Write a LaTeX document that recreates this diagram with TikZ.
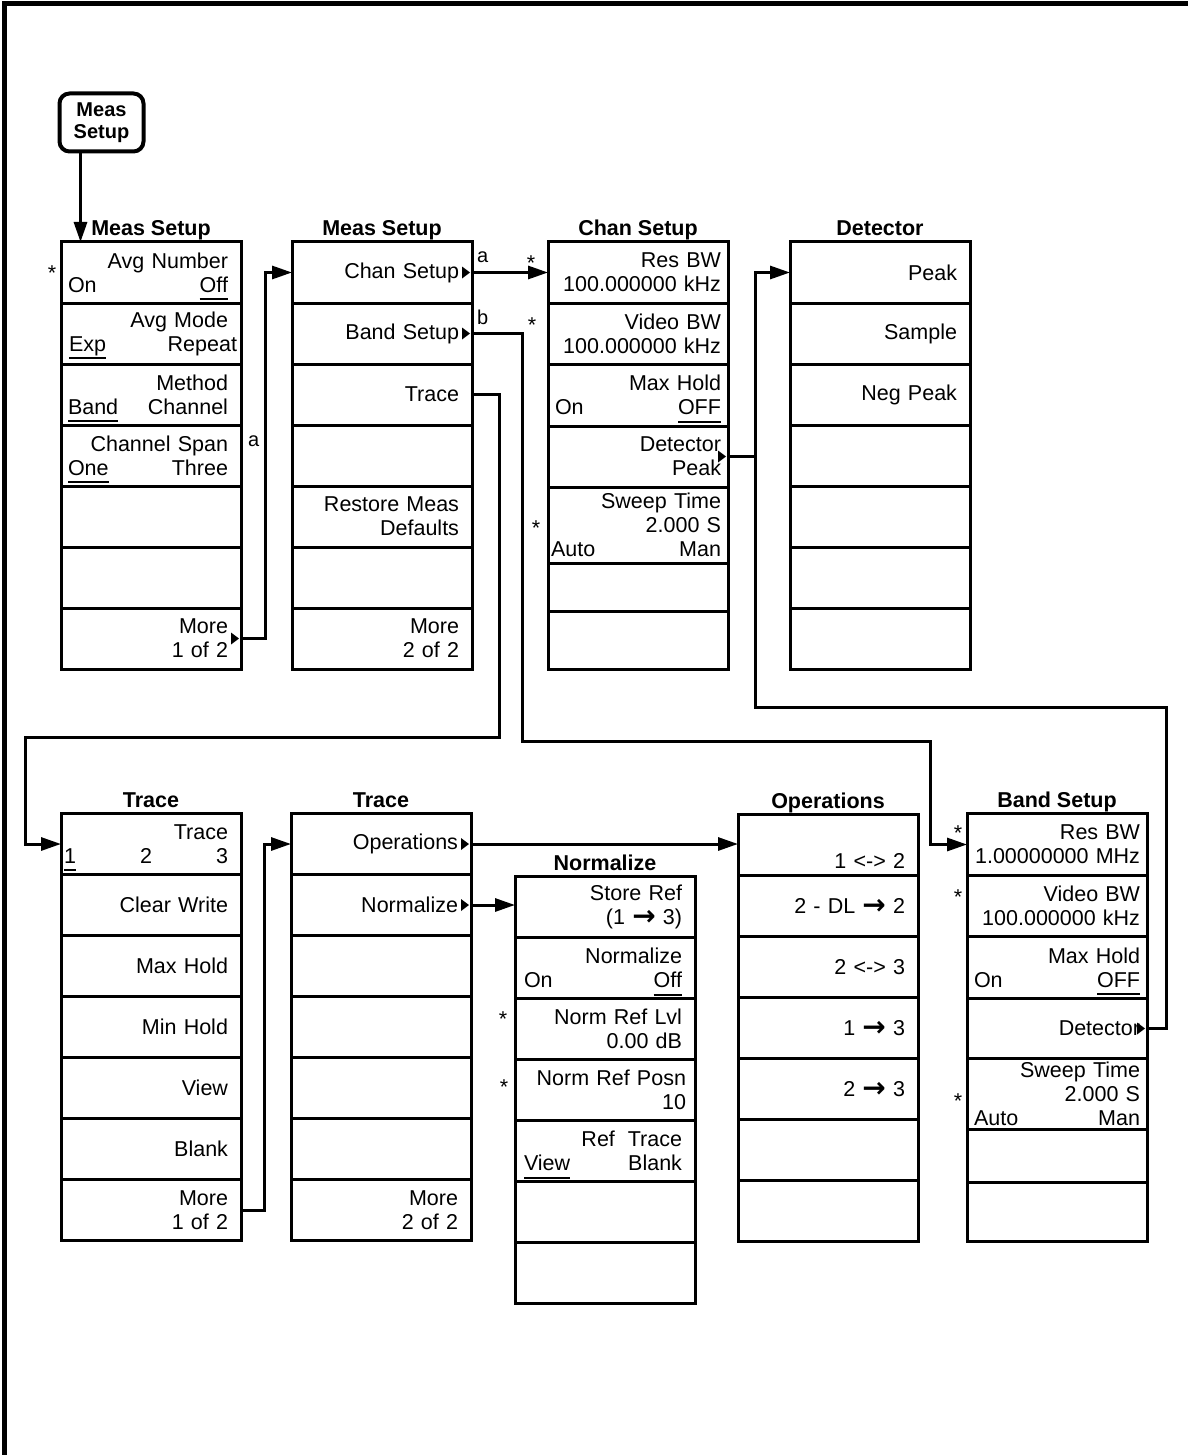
\documentclass[tikz,border=0pt]{standalone}
\usepackage{fontspec}
\setmainfont{Liberation Sans}
\newfontfamily\arrowfont{DejaVu Sans}
\usetikzlibrary{positioning}
\usetikzlibrary{arrows.meta}

\newcommand\keyfont{\fontsize{21.5}{24}\selectfont}
\newcommand\titlefont{\fontsize{21.5}{24}\selectfont\bfseries}
\newsavebox\undrbox
\newcommand\undr[1]{\leavevmode\sbox\undrbox{#1}\rlap{\smash{\rule[-8pt]{\wd\undrbox}{2pt}}}\usebox\undrbox}
\newcommand\boldto{{\arrowfont\bfseries\fontsize{28}{24}\selectfont\raisebox{-1pt}{→}}}
\newcommand\lft[1]{\hspace*{-#1}}

\tikzstyle{softkey}=[draw, line width=3pt, outer sep=0pt, minimum width=180pt, inner xsep=0pt, inner ysep=0pt, text width=154pt, align=right, font=\keyfont]
\tikzstyle{menutitle}=[font=\titlefont, anchor=base, inner sep=0pt]
\tikzstyle{hardkey}=[draw, line width=4pt, rounded corners=10pt, minimum width=84pt, minimum height=58pt, align=center, font=\fontsize{20}{22}\selectfont\bfseries]
\tikzstyle{link}=[draw, line width=3pt, -{Triangle[length=20pt,width=13pt]}]
\tikzstyle{wire}=[draw, line width=3pt]
\tikzstyle{starnote}=[font=\keyfont, inner sep=0pt, anchor=base]
\tikzstyle{tag}=[font=\fontsize{20}{22}\selectfont, inner sep=0pt, anchor=base west]

% one softkey menu: [row options]{name}{top centre}{title}{height/text, ...}
\newcommand\menucol[5][]{%
  \coordinate (#2-0) at #3;
  \node[menutitle] (#2-title) at ([yshift=6pt]#2-0) {#4};
  \foreach \h/\txt [count=\i, remember=\i as \j (initially 0)] in {#5}
    \node[softkey, #1, minimum height=\h pt, below=0pt of #2-\j] (#2-\i) {\txt};
}
\newcommand\submenu[1]{\fill ([xshift=-2pt]#1) -- ++(-8,6) -- ++(0,-12) -- cycle;}

\begin{document}
\begin{tikzpicture}[x=1pt, y=-1pt]
  \useasboundingbox (0,0) rectangle (1188,1455);
  \draw[line width=4.5pt] (4.5,1455) -- (4.5,3.5) -- (1188,3.5);

  \node[hardkey] (meas_key) at (101.5,122.5) {Meas\\Setup};

  % upper row
  \menucol{meas_a}{(151,242)}{Meas Setup}{61/{Avg Number\\\lft{6pt}On\hfill\undr{Off}},
    61/{Avg Mode\\\lft{5pt}\undr{Exp}\hfill Repeat\kern-9pt},
    61/{Method\\\lft{6pt}\undr{Band}\hfill Channel},
    61/{Channel Span\\\lft{6pt}\undr{One}\hfill Three}, 61/{}, 61/{}, 61/{More\\1 of 2}}
  \menucol{meas_b}{(382,242)}{Meas Setup}{61/{Chan Setup}, 61/{Band Setup},
    61/{Trace\hspace*{2pt}}, 61/{}, 61/{Restore Meas\\Defaults}, 61/{}, 61/{More\\2 of 2}}
  \menucol[text width=166pt]{chan}{(638,242)}{Chan Setup}{61/{Res BW\\100.000000 kHz},
    61/{Video BW\\100.000000 kHz}, 62/{Max Hold\hspace*{5pt}\\On\hfill\undr{OFF}\hspace*{5pt}},
    61/{Detector\hspace*{7pt}\\Peak\hspace*{7pt}}, 76/{Sweep Time\\2.000 S\\\lft{4pt}Auto\hfill Man},
    48/{}, 58/{}}
  \menucol{det}{(880,242)}{Detector}{61/{Peak}, 61/{Sample\hspace*{3pt}}, 61/{Neg Peak},
    61/{}, 61/{}, 61/{}, 61/{}}

  % lower row
  \menucol{trace_a}{(151,813.5)}{Trace}{61/{Trace\\\lft{10pt}\undr{1}\hfill 2\hfill 3},
    61/{Clear Write}, 61/{Max Hold}, 61/{Min Hold}, 61/{View}, 61/{Blank}, 61/{More\\1 of 2}}
  \menucol{trace_b}{(381,813.5)}{Trace}{61/{Operations}, 61/{Normalize}, 61/{}, 61/{},
    61/{}, 61/{}, 61/{More\\2 of 2}}
  \menucol{norm}{(605,876.5)}{Normalize}{61/{Store Ref\\(1 \boldto{} 3)},
    61/{Normalize\\\lft{4pt}On\hfill\undr{Off}}, 61/{Norm Ref Lvl\\0.00 dB},
    61/{Norm Ref Posn\kern-4pt\\10\kern-4pt},
    61/{Ref\hspace{0.6em}Trace\\\lft{4pt}\undr{View}\hfill Blank}, 61/{}, 61/{}}
  \menucol{oper}{(828,814.5)}{Operations}{61/{\strut\\[6pt]1 <-> 2\hspace*{9pt}},
    61/{2 - DL \boldto{} 2}, 61/{2 <-> 3}, 61/{1 \boldto{} 3}, 61/{2 \boldto{} 3}, 61/{}, 61/{}}
  \menucol[text width=166pt]{band}{(1057,813.5)}{Band Setup}{62/{Res BW\\1.00000000 MHz},
    61/{Video BW\\100.000000 kHz}, 62/{Max Hold\hspace*{3pt}\\On\hfill\undr{OFF}\hspace*{3pt}},
    60/{Detector\hspace*{6pt}}, 71/{Sweep Time\\2.000 S\\Auto\hfill Man}, 53/{}, 59/{}}

  \foreach \n in {meas_a-7, meas_b-1, meas_b-2, chan-4, trace_b-1, trace_b-2, band-4}
    {\submenu{\n.east}}

  \node[starnote] (star_avg) at ([shift={(-9pt,-8pt)}]meas_a-1.west) {*};
  \node[starnote] (star_chan_res) at ([shift={(-17pt,2pt)}]chan-1.west) {*};
  \node[starnote] (star_chan_vid) at ([shift={(-16pt,1pt)}]chan-2.west) {*};
  \node[starnote] (star_chan_swp) at ([shift={(-12pt,-10pt)}]chan-5.west) {*};
  \node[starnote] (star_norm_lvl) at ([shift={(-12pt,3pt)}]norm-3.west) {*};
  \node[starnote] (star_norm_pos) at ([shift={(-11pt,-4pt)}]norm-4.west) {*};
  \node[starnote] (star_band_res) at ([shift={(-9pt,4pt)}]band-1.west) {*};
  \node[starnote] (star_band_vid) at ([shift={(-9pt,2pt)}]band-2.west) {*};
  \node[starnote] (star_band_swp) at ([shift={(-9pt,-14pt)}]band-5.west) {*};

  \node[tag] (tag_chan) at ([shift={(5pt,10.5pt)}]meas_b-1.east) {a};
  \node[tag] (tag_band) at ([shift={(5pt,9.5pt)}]meas_b-2.east) {b};
  \node[tag] (tag_span) at ([shift={(7pt,9.5pt)}]meas_a-4.east) {a};

  % connectors
  \coordinate (key_out) at ([xshift=-21pt]meas_key.south);
  \coordinate (trace_bus) at (25,737);
  \coordinate (band_bus) at (930,741);
  \coordinate (det_bus) at (755,707);

  \draw[link] (key_out) -- (key_out |- meas_a-1.north);
  \draw[link] (meas_a-7.east) -- ++(24,0) |- (meas_b-1.west);
  \draw[link] (meas_b-1.east) -- (chan-1.west);
  \draw[link] (meas_b-2.east) -- ++(50,0) |- (band_bus) |- (band-1.west);
  \draw[link] (meas_b-3.east) -- ++(27,0) |- (trace_bus) |- (trace_a-1.west);
  \draw[link] (chan-4.east) -- ++(27,0) |- (det-1.west);
  \draw[wire] (band-4.east) -- ++(19,0) |- (det_bus) |- (chan-4.east);
  \draw[link] (trace_a-7.east) -- ++(23,0) |- (trace_b-1.west);
  \draw[link] (trace_b-1.east) -- (trace_b-1.east -| oper-1.west);
  \draw[link] (trace_b-2.east) -- (trace_b-2.east -| norm-1.west);
\end{tikzpicture}
\end{document}
